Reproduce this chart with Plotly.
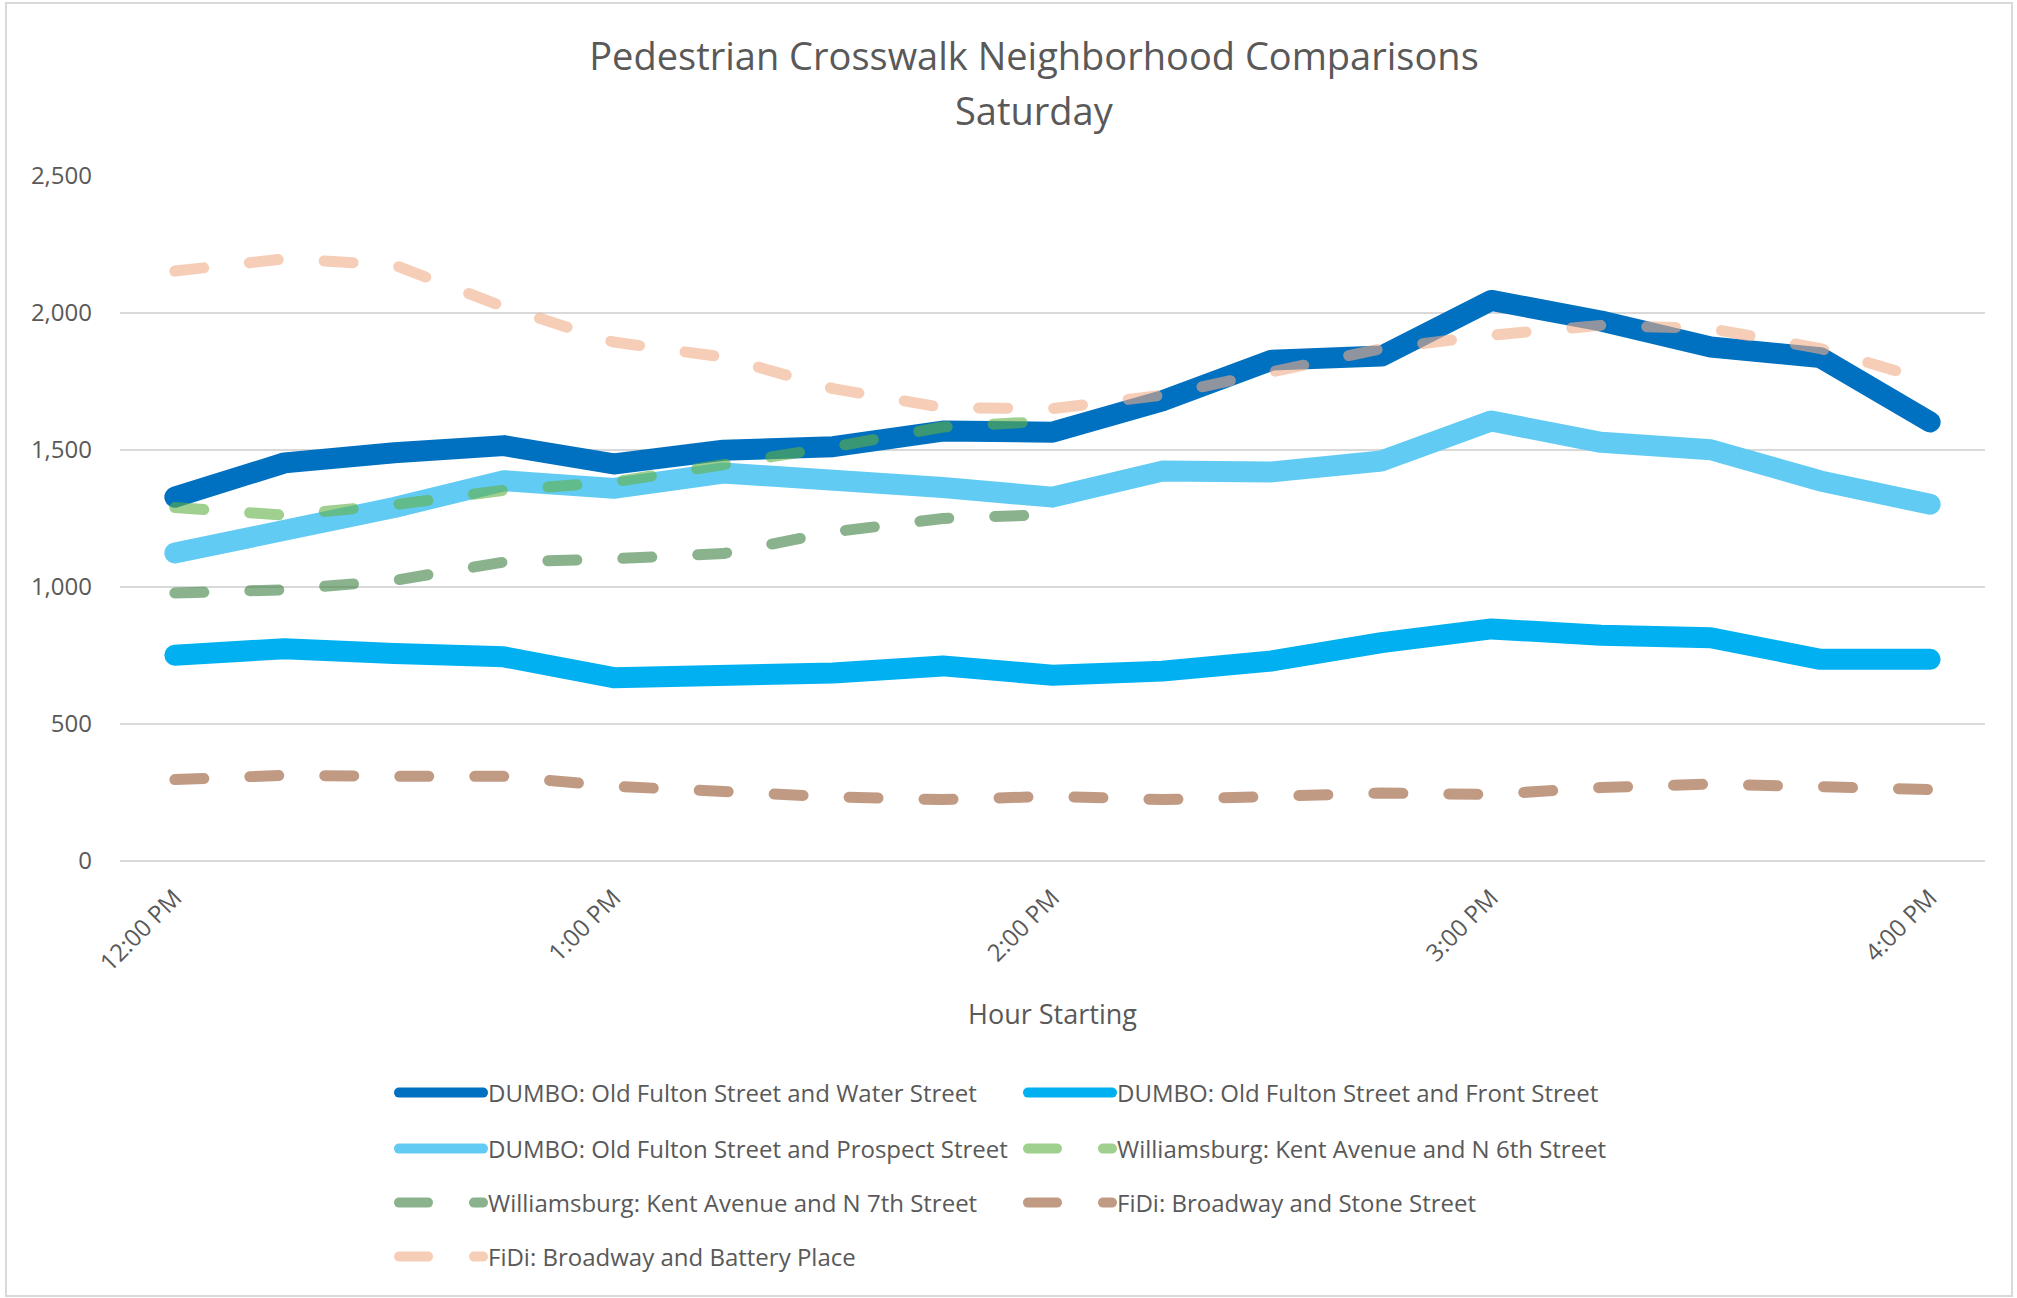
import plotly.graph_objects as go

# 15-minute intervals, Saturday afternoon
times = ["12:00 PM", "12:15 PM", "12:30 PM", "12:45 PM",
         "1:00 PM", "1:15 PM", "1:30 PM", "1:45 PM",
         "2:00 PM", "2:15 PM", "2:30 PM", "2:45 PM",
         "3:00 PM", "3:15 PM", "3:30 PM", "3:45 PM", "4:00 PM"]
hour_ticks = ["12:00 PM", "1:00 PM", "2:00 PM", "3:00 PM", "4:00 PM"]

names = [
    "DUMBO: Old Fulton Street and Water Street",
    "DUMBO: Old Fulton Street and Front Street",
    "DUMBO: Old Fulton Street and Prospect Street",
    "Williamsburg: Kent Avenue and N 6th Street",
    "Williamsburg: Kent Avenue and N 7th Street",
    "FiDi: Broadway and Stone Street",
    "FiDi: Broadway and Battery Place",
]

dumbo_water = [1328, 1453, 1490, 1516, 1449, 1499, 1512, 1569, 1565,
               1679, 1828, 1843, 2046, 1971, 1876, 1837, 1602]
dumbo_front = [751, 775, 757, 745, 669, 676, 686, 712, 678,
               693, 730, 797, 847, 824, 815, 736, 736]
dumbo_prospect = [1124, 1198, 1290, 1388, 1360, 1416, 1399, 1363, 1328,
                  1423, 1420, 1460, 1606, 1528, 1501, 1387, 1302]
wburg_n6 = [1290, 1262, 1300, 1353, 1383, 1444, 1511, 1584, 1606,
            None, None, None, None, None, None, None, None]
wburg_n7 = [978, 990, 1024, 1091, 1103, 1122, 1201, 1250, 1265,
            None, None, None, None, None, None, None, None]
fidi_stone = [297, 313, 309, 309, 273, 250, 234, 224, 236,
              224, 234, 248, 243, 268, 281, 275, 261]
fidi_battery = [2153, 2198, 2175, 2022, 1894, 1839, 1724, 1655, 1651,
                1700, 1785, 1870, 1919, 1955, 1943, 1870, 1752]

series = [dumbo_water, dumbo_front, dumbo_prospect, wburg_n6, wburg_n7, fidi_stone, fidi_battery]

# (color, width, dash)
styles = [
    ("#0070C0", 21, "solid"),
    ("#00B0F0", 21, "solid"),
    ("#61CBF3", 21, "solid"),
    ("rgba(97,177,68,0.6)", 11, "29px,46px"),
    ("rgba(60,128,65,0.6)", 11, "29px,46px"),
    ("rgba(152,87,50,0.6)", 11, "29px,46px"),
    ("rgba(240,172,135,0.6)", 11, "29px,46px"),
]

# legend rows (Excel lays it out 2 per row)
legend_of = ["legend", "legend", "legend2", "legend2", "legend3", "legend3", "legend4"]

W, H = 2017, 1298
L, R, T, B = 120, 32, 176, 437
plot_w = W - L - R
plot_h = H - T - B


def px_x(x):
    return (x - L) / plot_w


def px_y(y):
    return (H - B - y) / plot_h


FONT = "Open Sans"
GREY = "#595959"

fig = go.Figure()
for name, vals, (color, width, dash), lg in zip(names, series, styles, legend_of):
    fig.add_trace(go.Scatter(
        x=times, y=vals, name=name, mode="lines",
        line=dict(color=color, width=width, dash=dash),
        legend=lg, connectgaps=False, hoverinfo="skip",
    ))

legend_base = dict(
    orientation="h", xanchor="left", yanchor="middle",
    x=px_x(394), entrywidth=530, entrywidthmode="pixels", itemwidth=84,
    font=dict(family=FONT, size=24, color=GREY), bgcolor="rgba(0,0,0,0)",
)

fig.update_layout(
    width=W, height=H,
    margin=dict(l=L, r=R, t=T, b=B),
    paper_bgcolor="white", plot_bgcolor="white",
    font=dict(family=FONT, color=GREY),
    title=dict(
        text="Pedestrian Crosswalk Neighborhood Comparisons",
        x=1034 / W, xanchor="center", xref="container",
        y=1 - 57 / H, yanchor="middle", yref="container",
        font=dict(family=FONT, size=38, color=GREY),
    ),
    legend=dict(legend_base, y=px_y(1093)),
    legend2=dict(legend_base, y=px_y(1149)),
    legend3=dict(legend_base, y=px_y(1203)),
    legend4=dict(legend_base, y=px_y(1257)),
    showlegend=True,
)

# second title line
fig.add_annotation(text="Saturday", xref="paper", yref="paper",
                   x=px_x(1034), y=px_y(110), xanchor="center", yanchor="middle",
                   showarrow=False, font=dict(family=FONT, size=38, color=GREY))

fig.update_xaxes(
    type="category", range=[-0.5, len(times) - 0.5],
    tickvals=hour_ticks, ticktext=hour_ticks, tickangle=-45,
    tickfont=dict(family=FONT, size=24, color=GREY),
    ticklabelstandoff=17, showgrid=False, showline=False, ticks="",
    title=dict(text="Hour Starting", standoff=28, font=dict(family=FONT, size=27, color=GREY)),
)
fig.update_yaxes(
    range=[0, 2500], dtick=500, tickformat=",",
    tickfont=dict(family=FONT, size=24, color=GREY),
    ticklabelstandoff=27,
    gridcolor="#D9D9D9", gridwidth=2,
    zeroline=True, zerolinecolor="#D9D9D9", zerolinewidth=2,
    showline=False, ticks="",
)

# chart border like the Excel chart area
fig.add_shape(type="rect", xref="paper", yref="paper",
              x0=px_x(6), x1=px_x(2012), y0=px_y(1296), y1=px_y(3),
              line=dict(color="#D9D9D9", width=2), layer="below")

# no page margin, and Excel-style round line caps
post = """
document.body.style.margin = '0';
document.querySelectorAll('.scatterlayer path.js-line, .legendlines path').forEach(function(p){
  p.style.strokeLinecap = 'round';
  p.style.strokeLinejoin = 'round';
});
"""

fig.write_html("out.html", post_script=post, config={"displayModeBar": False})
